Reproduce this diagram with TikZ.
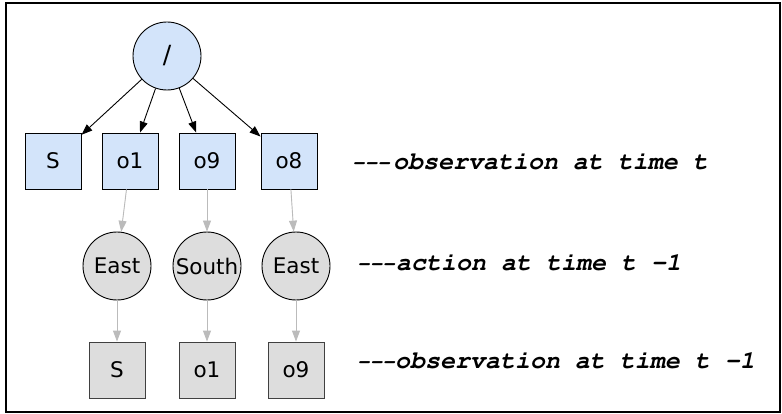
\documentclass[tikz,border=0pt]{standalone}
\usepackage{fontspec}
\setmainfont{DejaVu Sans}
\usepackage{tikz}
\usetikzlibrary{arrows.meta}
\definecolor{obsblue}{HTML}{D3E4FA}
\definecolor{pastgray}{HTML}{DDDDDD}
\definecolor{edgegray}{HTML}{BBBBBB}
\newcommand{\notefont}{\fontencoding{T1}\fontfamily{pcr}\fontseries{b}\fontshape{sl}\fontsize{25}{30}\selectfont}
\newcommand{\notedash}{{\fontsize{21}{25}\selectfont -{}-{}-}}

\begin{document}
\begin{tikzpicture}[x=1pt,y=-1pt,
  every node/.style={font=\fontsize{21.5}{26}\selectfont},
  obs/.style={draw,rectangle,minimum size=56pt,inner sep=0pt,line width=0.9pt,fill=obsblue},
  pastobs/.style={obs,fill=pastgray,draw=black!75},
  act/.style={draw,circle,minimum size=68pt,inner sep=0pt,line width=0.9pt,fill=pastgray},
  note/.style={anchor=base west,inner sep=0pt,font=\notefont},
  tree/.style={-{Triangle[length=11pt,width=8pt]},line width=0.9pt},
  back/.style={tree,draw=edgegray,fill=edgegray}]
  \useasboundingbox (0,0) rectangle (782,414);
  \draw[line width=2pt] (6,3) rectangle (780,412);
  % current observation tree
  \node[act,fill=obsblue,font=\fontsize{25}{30}\selectfont] (root) at (167,56) {/};
  \node[obs] (curS)  at (53,161)  {S};
  \node[obs] (curO1) at (130,161) {o1};
  \node[obs] (curO9) at (207,161) {o9};
  \node[obs] (curO8) at (289,161) {o8};
  \foreach \n in {curS,curO1,curO9,curO8}
    \draw[tree] (root) -- (\n);
  % actions and previous observations
  \node[act] (actA) at (117,266) {East};
  \node[act] (actB) at (207,266) {South};
  \node[act] (actC) at (296,266) {East};
  \node[pastobs] (preS)  at (117,370) {S};
  \node[pastobs] (preO1) at (207,370) {o1};
  \node[pastobs] (preO9) at (296,370) {o9};
  \draw[back] (curO1) -- (actA);
  \draw[back] (curO9) -- (actB);
  \draw[back] (curO8) -- (actC);
  \draw[back] (actA) -- (preS);
  \draw[back] (actB) -- (preO1);
  \draw[back] (actC) -- (preO9);
  % row notes
  \node[note] (noteT) at (352,170) {\notedash\hspace{3pt}observation at time t};
  \node[note] (noteA) at (357,270) {\notedash\hspace{1pt}action at time t --1};
  \node[note] (noteP) at (357,368) {\notedash observation at time t --1};
\end{tikzpicture}
\end{document}
